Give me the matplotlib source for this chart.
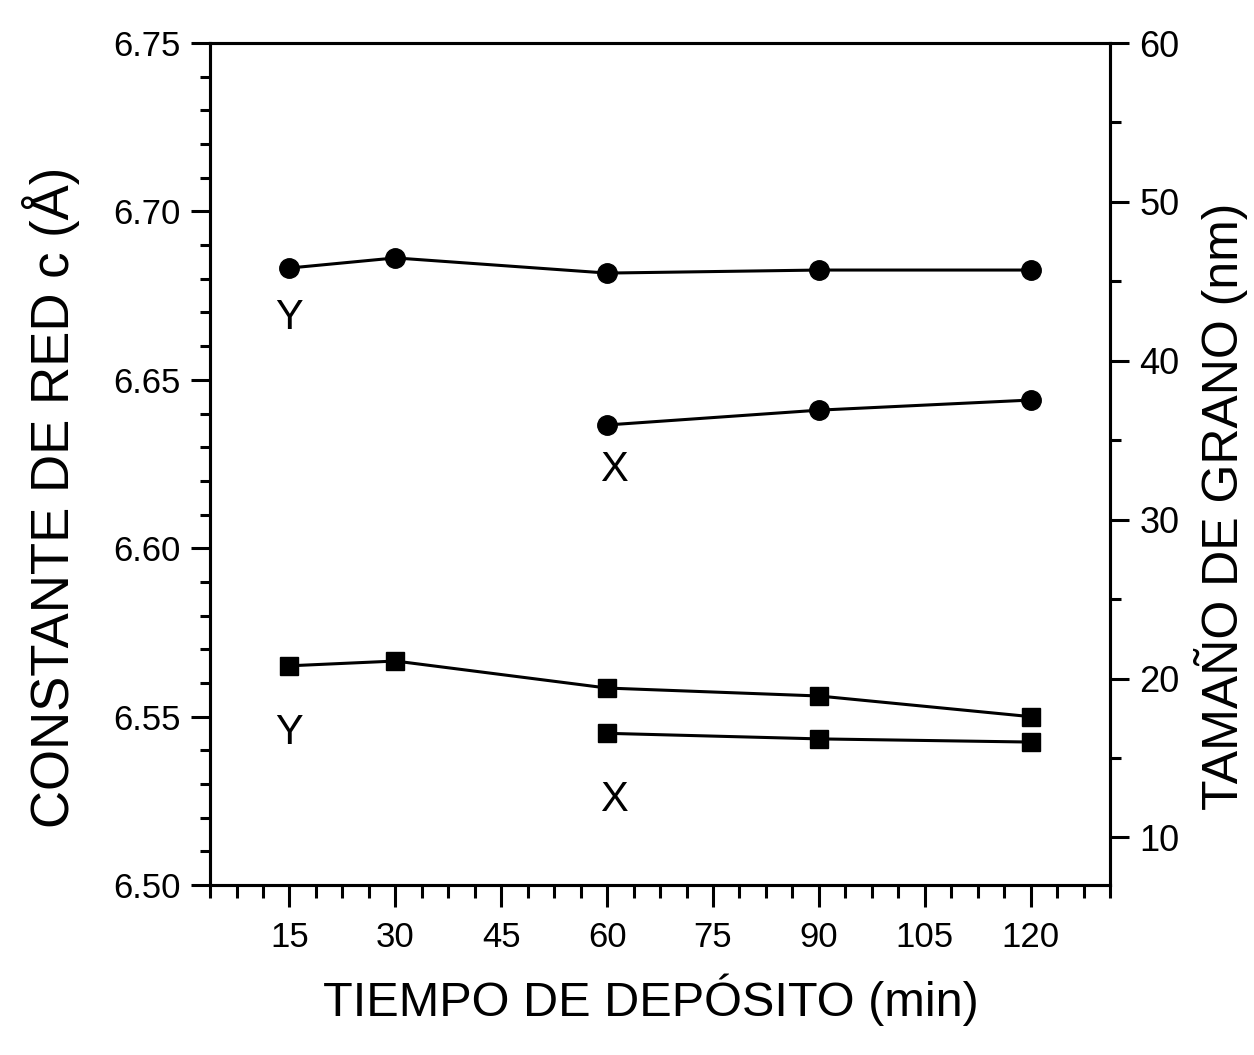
import matplotlib
matplotlib.use("Agg")
import matplotlib.pyplot as plt
from matplotlib.ticker import MultipleLocator

plt.rcParams["font.family"] = ["Liberation Sans", "DejaVu Sans"]

# deposition time (min)
t_y = [15, 30, 60, 90, 120]
t_x = [60, 90, 120]

# lattice constant c (Å), left axis — circles
c_y = [6.6832, 6.6862, 6.6817, 6.6826, 6.6826]
c_x = [6.6366, 6.6410, 6.6440]

# grain size (nm), right axis — squares
g_y = [20.8, 21.1, 19.4, 18.9, 17.6]
g_x = [16.55, 16.2, 16.0]

LW = 2.2
fig = plt.figure(figsize=(12.54, 10.55), dpi=100)
ax = fig.add_axes([0.1675, 0.1611, 0.7177, 0.7981])
ax2 = ax.twinx()

mk = dict(color="black", lw=2.2)
ax.plot(t_y, c_y, marker="o", ms=14, **mk)
ax.plot(t_x, c_x, marker="o", ms=14, **mk)
ax2.plot(t_y, g_y, marker="s", ms=13, **mk)
ax2.plot(t_x, g_x, marker="s", ms=13, **mk)

ax.set_xlim(3.75, 131.25)
ax.set_ylim(6.50, 6.75)
ax2.set_ylim(7, 60)

ax.xaxis.set_minor_locator(MultipleLocator(3.75))
ax.set_xticks(range(15, 121, 15))
ax.yaxis.set_major_locator(MultipleLocator(0.05))
ax.yaxis.set_minor_locator(MultipleLocator(0.01))
ax.yaxis.set_major_formatter(plt.FormatStrFormatter("%.2f"))
ax2.yaxis.set_minor_locator(MultipleLocator(5))
ax2.set_yticks([10, 20, 30, 40, 50, 60])

for a in (ax, ax2):
    for sp in a.spines.values():
        sp.set_linewidth(LW)
ax.tick_params(axis="both", which="major", direction="out", length=14,
               width=LW, labelsize=25, pad=7, top=False, right=False)
ax.tick_params(axis="both", which="minor", direction="out", length=7,
               width=LW, top=False, right=False)
ax.tick_params(axis="x", which="major", length=16, pad=10)
ax.tick_params(axis="x", which="minor", length=9)
ax2.tick_params(axis="y", which="major", direction="out", length=14,
                width=LW, labelsize=26, pad=7)
ax2.tick_params(axis="y", which="minor", direction="out", length=8, width=LW)

ax.set_ylabel("CONSTANTE DE RED c (Å)", fontsize=38)
ax.yaxis.set_label_coords(-0.145, 0.46)
ax2.set_ylabel("TAMAÑO DE GRANO (nm)", fontsize=36, rotation=90)
ax2.yaxis.set_label_coords(1.093, 0.45)
ax.set_xlabel("TIEMPO DE DEPÓSITO (min)", fontsize=35)
ax.xaxis.set_label_coords(0.49, -0.105)

# series labels
ax.text(15, 6.6683, "Y", fontsize=30, ha="center", va="center")
ax.text(61, 6.6232, "X", fontsize=30, ha="center", va="center")
ax2.text(15, 16.55, "Y", fontsize=30, ha="center", va="center")
ax2.text(61, 12.33, "X", fontsize=30, ha="center", va="center")

fig.savefig("out.png", dpi=100)
